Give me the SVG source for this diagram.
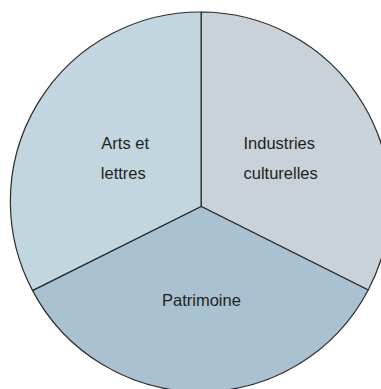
<svg xmlns="http://www.w3.org/2000/svg" width="381" height="389" viewBox="0 0 381 389">
<style>
.seg{stroke:#2b2b2b;stroke-width:1.2;stroke-linejoin:round}
.lbl{font-family:"Liberation Sans",Arial,sans-serif;font-size:16.5px;fill:#231f20}
</style>
<rect width="381" height="389" fill="#ffffff"/>
<g id="arts">
<path class="seg" d="M201.3,206.5 L201.3,12 A189.5,189.5 0 0 0 32.6,290.6 Z" fill="#c2d6df"/>
<text class="lbl" x="101.3" y="149">Arts et</text>
<text class="lbl" x="100.8" y="178.7">lettres</text>
</g>
<g id="industries">
<path class="seg" d="M201.3,206.5 L201.3,12 A189.5,189.5 0 0 1 368.2,290 Z" fill="#c9d1d9"/>
<text class="lbl" x="243.5" y="149">Industries</text>
<text class="lbl" x="243.5" y="178.7">culturelles</text>
</g>
<g id="patrimoine">
<path class="seg" d="M201.3,206.5 L368.2,290 A189.5,189.5 0 0 1 32.6,290.6 Z" fill="#a9c1d1"/>
<text class="lbl" x="162" y="306">Patrimoine</text>
</g>
<g id="connectors"></g>
</svg>
